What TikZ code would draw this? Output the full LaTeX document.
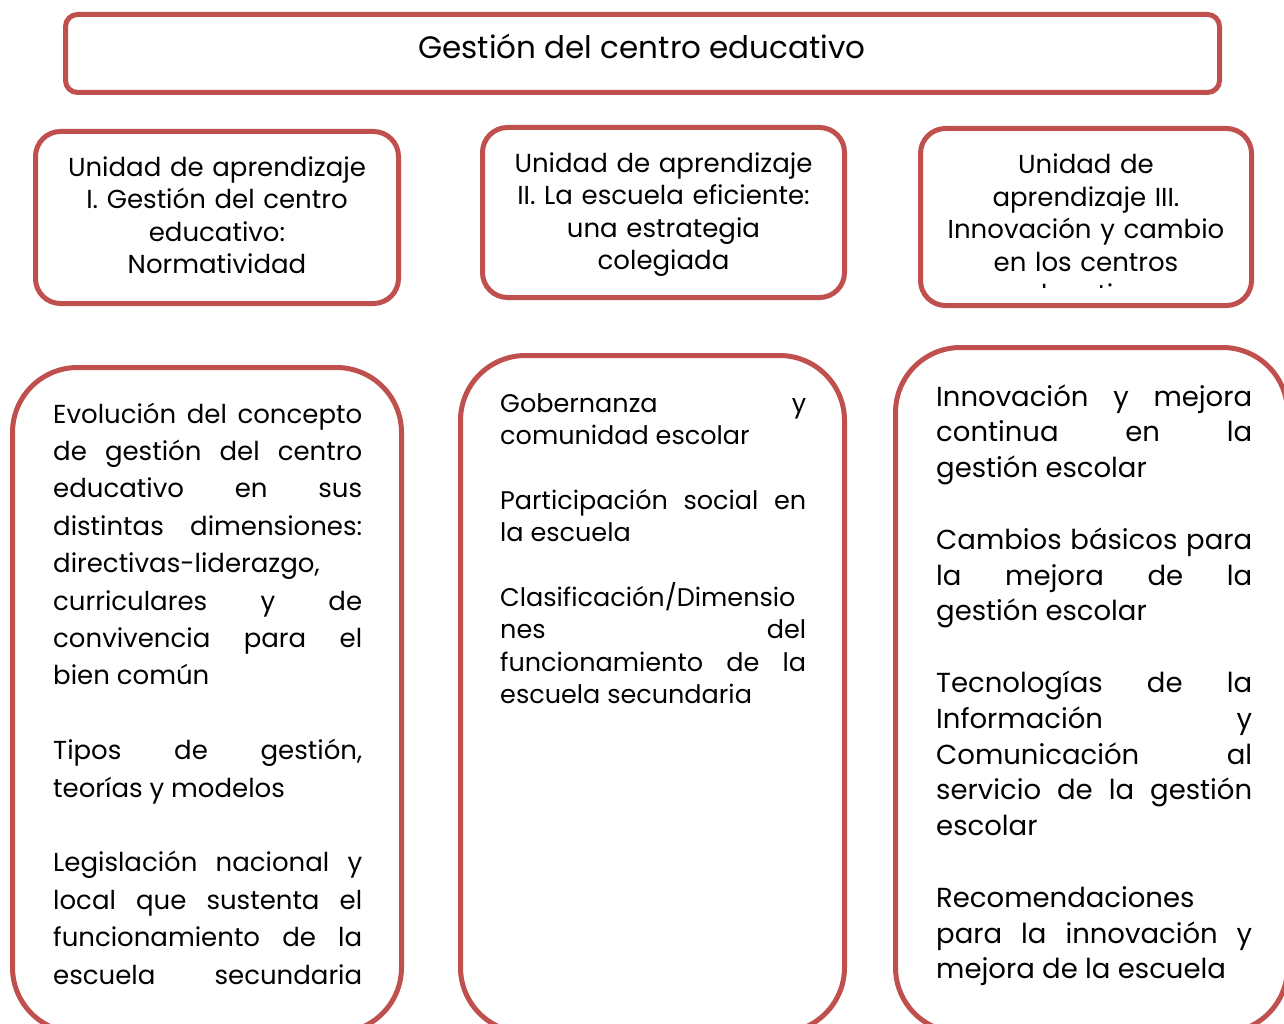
\documentclass[tikz,border=0pt]{standalone}
\usepackage{fontspec}
\setmainfont{Poppins}
\usetikzlibrary{positioning}
\definecolor{unitred}{HTML}{C0504D}
\tikzset{unitbox/.style={draw=unitred, line width=5pt, fill=white, rounded corners=#1},
  headtext/.style={align=center, text width=340pt, inner sep=0pt, anchor=base, font=\fontsize{26}{32.5}\selectfont},
  listtext/.style={align=justify, inner sep=0pt, anchor=base west}}
\newcommand{\listfont}[2]{\fontsize{#1}{#2}\selectfont\tolerance=10000\hbadness=10000\hyphenpenalty=10000\exhyphenpenalty=10000}

\begin{document}
\begin{tikzpicture}[x=1pt, y=-1pt]
  \useasboundingbox (0,0) rectangle (1284,1024);
  \clip (0,0) rectangle (1284,1024);
  \node[unitbox=12pt, minimum width=1154pt, minimum height=78pt] (title) at (642.5,53.5) {};
  \node[anchor=base, inner sep=0pt, font=\fontsize{31}{36}\selectfont] (titletext) at (642,59) {Gestión del centro educativo};
  % unidades de aprendizaje
  \node[unitbox=25pt, minimum width=363pt, minimum height=172pt] (unit1) at (217,217.5) {};
  \node[headtext] (unit1text) at (217,176.5) {Unidad de aprendizaje\\ I. Gestión del centro\\ educativo:\\ Normatividad};
  \node[unitbox=25pt, minimum width=362pt, minimum height=170pt] (unit2) at (663.5,212.5) {};
  \node[headtext] (unit2text) at (663.5,172.5) {Unidad de aprendizaje\\ II. La escuela eficiente:\\ una estrategia\\ colegiada};
  \node[unitbox=25pt, minimum width=331pt, minimum height=177pt] (unit3) at (1086,217) {};
  \begin{scope}
    \clip (920,130) rectangle (1250,287.5);
    \node[headtext] (unit3text) at (1086,174) {Unidad de\\ aprendizaje III.\\ Innovación y cambio\\ en los centros\\ educativos};
  \end{scope}
  % contenidos
  \node[unitbox=65pt, minimum width=389pt, minimum height=665pt] (topics1) at (207,700) {};
  \node[listtext, text width=309pt, font=\listfont{26}{37.4}] (topics1text) at (53,423) {%
    Evolución del concepto\break de gestión del centro\break educativo en sus\break distintas dimensiones:\break
    directivas-liderazgo,\\ curriculares y de\break convivencia para el\break bien común\\[37.4pt]
    Tipos de gestión,\break teorías y modelos\\[37.4pt]
    Legislación nacional y\break local que sustenta el\break funcionamiento de la\break escuela secundaria\break};
  \node[unitbox=65pt, minimum width=384pt, minimum height=677pt] (topics2) at (652.5,694) {};
  \node[listtext, text width=306pt, font=\listfont{25.5}{32.4}] (topics2text) at (500,412) {%
    Gobernanza y\break comunidad escolar\\[32.4pt]
    Participación social en\break la escuela\\[32.4pt]
    Clasificación/Dimensio\\ nes del\break funcionamiento de la\break escuela secundaria};
  \node[unitbox=65pt, minimum width=392pt, minimum height=685pt] (topics3) at (1091.5,690) {};
  \node[listtext, text width=316pt, font=\listfont{27.5}{35.8}] (topics3text) at (936,406) {%
    Innovación y mejora\break continua en la\break gestión escolar\\[35.8pt]
    Cambios básicos para\break la mejora de la\break gestión escolar\\[35.8pt]
    Tecnologías de la\break Información y\break Comunicación al\break servicio de la gestión\break escolar\\[35.8pt]
    Recomendaciones\\ para la innovación y\break mejora de la escuela};
\end{tikzpicture}
\end{document}
